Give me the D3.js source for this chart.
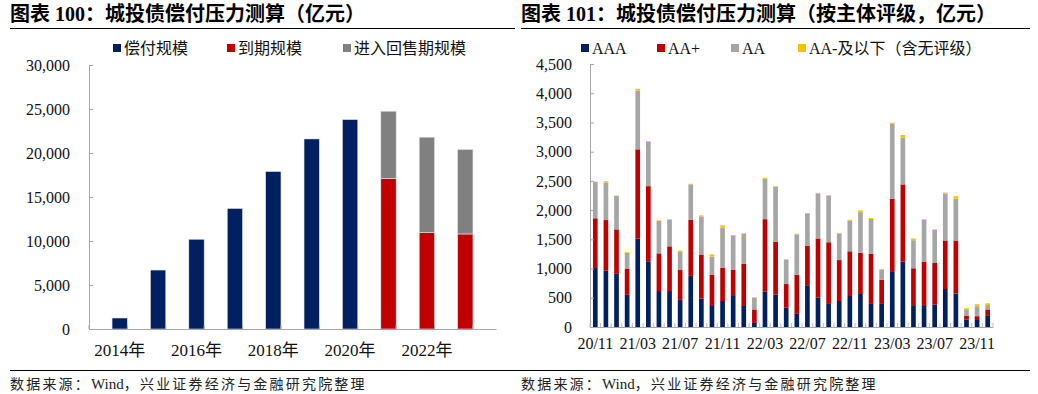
<!DOCTYPE html>
<html>
<head>
<meta charset="utf-8">
<script src="https://cdn.jsdelivr.net/npm/d3@7"></script>
<style>
  body { margin: 0; background: #fff; }
  svg { display: block; }
  .serif { font-family: "Liberation Serif", "Noto Sans CJK SC", serif; }
  .axis text { font-family: "Liberation Serif", serif; font-size: 16px; fill: #111; }
  .axis path, .axis line { stroke: #a6a6a6; }
</style>
</head>
<body>
<div id="chart"></div>
<script>
// left chart: yearly payment pressure (亿元)
const years = ['2014年','2015年','2016年','2017年','2018年','2019年','2020年','2021年','2022年','2023年']
const paid = [1250, 6700, 10200, 13700, 17900, 21600, 23800, 0, 0, 0]
const maturity = [0, 0, 0, 0, 0, 0, 0, 17100, 10950, 10800]
const putback = [0, 0, 0, 0, 0, 0, 0, 7650, 10850, 9600]
const leftTicks = [0, 5000, 10000, 15000, 20000, 25000, 30000]

// right chart: by issuer rating, monthly
const months = ['20/11','20/12','21/01','21/02','21/03','21/04','21/05','21/06','21/07','21/08','21/09','21/10',
  '21/11','21/12','22/01','22/02','22/03','22/04','22/05','22/06','22/07','22/08','22/09','22/10',
  '22/11','22/12','23/01','23/02','23/03','23/04','23/05','23/06','23/07','23/08','23/09','23/10','23/11','23/12']
const aaa = [1010,965,910,550,1515,1125,615,615,465,875,485,375,445,545,360,70,610,555,330,225,715,505,395,445,545,565,395,395,955,1120,360,360,385,650,575,130,120,190]
const aaPlus = [850,865,760,450,1525,1285,645,765,510,960,755,515,565,430,720,230,1235,905,405,670,675,1010,1055,700,750,705,860,415,1240,1320,645,760,710,830,905,65,65,110]
const aa = [620,640,575,270,1005,760,555,455,315,605,650,315,690,590,510,200,690,940,420,690,555,770,795,455,525,695,595,175,1285,800,480,715,565,805,715,110,170,75]
const aaMinus = [10,25,5,15,30,10,10,10,20,10,20,40,40,10,15,10,20,10,5,10,5,10,10,10,15,30,15,3,15,45,30,10,10,15,45,15,35,30]
const rightTicks = [0, 500, 1000, 1500, 2000, 2500, 3000, 3500, 4000, 4500]

const width = 1038, height = 394
const svg = d3.select('#chart').append('svg').attr('width', width).attr('height', height)
svg.append('rect').attr('width', width).attr('height', height).attr('fill', '#fff')

// titles + rules
const titles = [
  {x: 10, text: '图表 100：城投债偿付压力测算（亿元）', x2: 515},
  {x: 521, text: '图表 101：城投债偿付压力测算（按主体评级，亿元）', x2: 1030}
]
titles.forEach(t => {
  svg.append('text').attr('class', 'serif').attr('x', t.x).attr('y', 21)
    .attr('font-size', 20).attr('font-weight', 700).attr('fill', '#000').text(t.text)
  svg.append('line').attr('x1', t.x).attr('x2', t.x2).attr('y1', 28.5).attr('y2', 28.5)
    .attr('stroke', '#000').attr('stroke-width', 1)
})
svg.append('line').attr('x1', 10).attr('x2', 1030).attr('y1', 370.5).attr('y2', 370.5)
  .attr('stroke', '#000').attr('stroke-width', 1)
;[10, 521].forEach(x => {
  const t = svg.append('text').attr('class', 'serif').attr('x', x).attr('y', 389)
    .attr('font-size', 14).attr('fill', '#222')
  t.append('tspan').attr('letter-spacing', 2.2).text('数据来源：')
  t.append('tspan').attr('font-size', 15).text('Wind')
  t.append('tspan').attr('letter-spacing', 2.2).text('，兴业证券经济与金融研究院整理')
})

function legend(items, y) {
  items.forEach(it => {
    svg.append('rect').attr('x', it.x).attr('y', y - 4).attr('width', 8).attr('height', 8).attr('fill', it.color)
    svg.append('text').attr('class', 'serif').attr('x', it.x + 11).attr('y', y + 6)
      .attr('font-size', 16).attr('fill', '#111').text(it.label)
  })
}

// ---------- left chart ----------
const lx = d3.scaleBand().domain(years).range([89, 496]).padding(0.6)
const ly = d3.scaleLinear().domain([0, 30000]).range([329, 65])
const leftRows = years.map((d, i) => ({year: d, paid: paid[i], maturity: maturity[i], putback: putback[i]}))
const leftKeys = ['paid', 'maturity', 'putback']
const leftColors = {paid: '#002060', maturity: '#c00000', putback: '#808080'}
const leftStack = d3.stack().keys(leftKeys)(leftRows)

svg.append('g').selectAll('g').data(leftStack).join('g')
    .attr('fill', s => leftColors[s.key])
  .selectAll('rect').data(s => s).join('rect')
    .attr('x', d => lx(d.data.year))
    .attr('y', d => ly(d[1]))
    .attr('height', d => ly(d[0]) - ly(d[1]))
    .attr('width', lx.bandwidth())
    .attr('stroke', '#e4e6ef').attr('stroke-width', 0.6)

svg.append('g').attr('class', 'axis')
  .attr('transform', 'translate(89,0)')
  .call(d3.axisLeft(ly).tickValues(leftTicks).tickFormat(d3.format(',')).tickSizeInner(-4).tickSizeOuter(0).tickPadding(19))

svg.append('g').attr('class', 'axis')
  .attr('transform', 'translate(0,329)')
  .call(d3.axisBottom(lx).tickFormat((d, i) => i % 2 === 0 ? d : '').tickSize(0).tickPadding(15))
  .call(g => g.selectAll('text').style('font-size', '17px').style('font-family', '"Liberation Serif", "Noto Sans CJK SC", serif'))

// boundary ticks on x axis
const lStep = lx.step()
svg.append('g').selectAll('line').data(years.concat(['end'])).join('line')
  .attr('x1', (d, i) => 89 + i * lStep)
  .attr('x2', (d, i) => 89 + i * lStep)
  .attr('y1', 329).attr('y2', 325).attr('stroke', '#a6a6a6')

legend([
  {x: 113, label: '偿付规模', color: '#002060'},
  {x: 227, label: '到期规模', color: '#c00000'},
  {x: 343, label: '进入回售期规模', color: '#808080'}
], 48)

// ---------- right chart ----------
const rx = d3.scaleBand().domain(months).range([590, 993]).paddingInner(0.56).paddingOuter(0.28)
const ry = d3.scaleLinear().domain([0, 4500]).range([327, 64])
const rightRows = months.map((d, i) => ({m: d, aaa: aaa[i], aaPlus: aaPlus[i], aa: aa[i], aaMinus: aaMinus[i]}))
const rightKeys = ['aaa', 'aaPlus', 'aa', 'aaMinus']
const rightColors = {aaa: '#002060', aaPlus: '#c00000', aa: '#a6a6a6', aaMinus: '#ffc000'}
const rightStack = d3.stack().keys(rightKeys)(rightRows)

svg.append('g').selectAll('g').data(rightStack).join('g')
    .attr('fill', s => rightColors[s.key])
  .selectAll('rect').data(s => s).join('rect')
    .attr('x', d => rx(d.data.m))
    .attr('y', d => ry(d[1]))
    .attr('height', d => ry(d[0]) - ry(d[1]))
    .attr('width', rx.bandwidth())

svg.append('g').attr('class', 'axis')
  .attr('transform', 'translate(590,0)')
  .call(d3.axisLeft(ry).tickValues(rightTicks).tickFormat(d3.format(',')).tickSizeInner(-4).tickSizeOuter(0).tickPadding(18))

svg.append('g').attr('class', 'axis')
  .attr('transform', 'translate(0,327)')
  .call(d3.axisBottom(rx).tickFormat((d, i) => i % 4 === 0 ? d : '').tickSize(0).tickPadding(11))

const rStep = (993 - 590) / months.length
svg.append('g').selectAll('line').data(months.concat(['end'])).join('line')
  .attr('x1', (d, i) => 590 + i * rStep)
  .attr('x2', (d, i) => 590 + i * rStep)
  .attr('y1', 327).attr('y2', 323).attr('stroke', '#bfbfbf')

legend([
  {x: 581, label: 'AAA', color: '#002060'},
  {x: 657, label: 'AA+', color: '#c00000'},
  {x: 731, label: 'AA', color: '#a6a6a6'},
  {x: 798, label: 'AA-及以下（含无评级）', color: '#ffc000'}
], 48)
</script>
</body>
</html>
